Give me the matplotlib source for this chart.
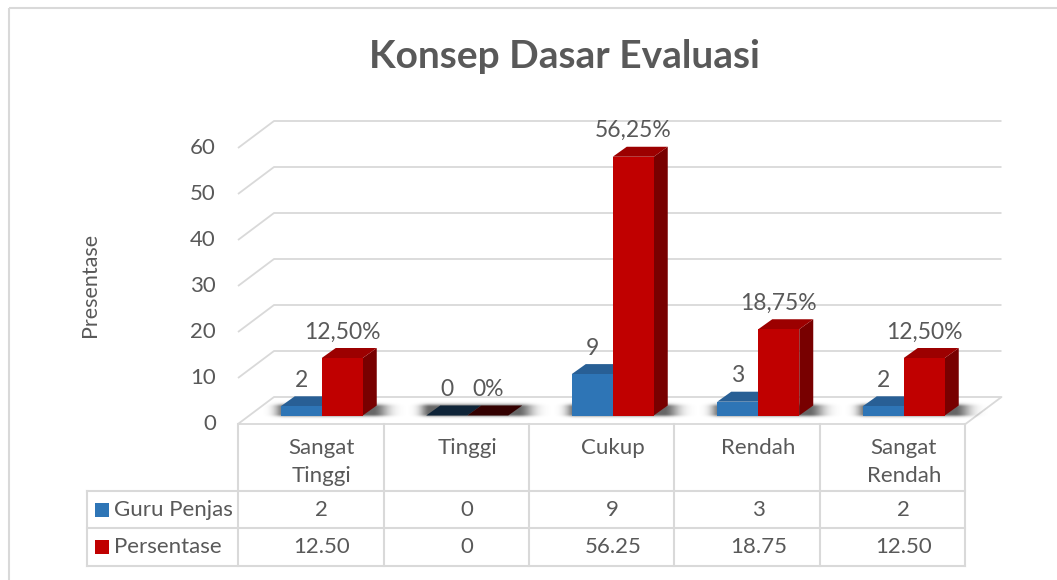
import numpy as np
import matplotlib
matplotlib.use("Agg")
import matplotlib.pyplot as plt
from matplotlib.patches import Polygon, Rectangle
from matplotlib.transforms import blended_transform_factory

# ---------------- data ----------------
categories = [["Sangat", "Tinggi"], ["Tinggi"], ["Cukup"], ["Rendah"], ["Sangat", "Rendah"]]
series_names = ["Guru Penjas", "Persentase"]
guru_penjas = [2, 0, 9, 3, 2]
persentase = [12.50, 0, 56.25, 18.75, 12.50]
yticks = [0, 10, 20, 30, 40, 50, 60]
title = "Konsep Dasar Evaluasi"
ylabel = "Presentase"

# ---------------- style ----------------
FONT = ["Lato", "DejaVu Sans"]
plt.rcParams['font.family'] = FONT
TXT = "#595959"
GRID = "#d9d9d9"
BLUE, BLUE_TOP, BLUE_SIDE, BLUE_ZERO = "#2e75b6", "#285f95", "#1f4e79", "#0f2438"
RED, RED_TOP, RED_SIDE, RED_ZERO = "#c00000", "#9c0000", "#780000", "#330000"
FS = 16

W, H = 1057, 580
fig = plt.figure(figsize=(W / 100, H / 100), dpi=100)

# overlay in pixel coordinates (title, table, frame)
ov = fig.add_axes([0, 0, 1, 1])
ov.set_xlim(0, W)
ov.set_ylim(H, 0)
ov.axis('off')

# main axes: category x, value y (bar front plane)
xl, xr = 249, 976.5
yb, yt = 415.5, 139.5
ax = fig.add_axes([xl / W, 1 - yb / H, (xr - xl) / W, (yb - yt) / H])
ax.set_xlim(-0.5, 4.5)
ax.set_ylim(0, 60)
ax.axis('off')
sx = (xr - xl) / 5.0
sy = (yb - yt) / 60.0


def px(dx, dy):
    return dx / sx, dy / sy


fox, foy = px(-11, -8.5)   # floor front offset
box, boy = px(25, 18.5)    # floor back offset
ddx, ddy = px(14, 10)      # bar depth

# chart frame
ov.add_patch(Rectangle((9, 8), 1060, 600, fill=False, ec=GRID, lw=1.5))

# gridlines and floor
for v in yticks:
    xs = [-0.5 + fox, -0.5 + box, 4.5 + box]
    ys = [v + foy, v + boy, v + boy]
    if v == 0:
        xs += [4.5 + fox, -0.5 + fox]
        ys += [v + foy, v + foy]
    ax.plot(xs, ys, color=GRID, lw=1.3, clip_on=False, zorder=1,
            solid_capstyle='butt')
    ax.annotate(str(v), (-0.5 + fox, v + foy), xytext=(-22, 0),
                textcoords='offset pixels', ha='right', va='center',
                fontsize=FS, color=TXT, annotation_clip=False)

w = 41 / sx

# soft shadows on the floor
for i in range(len(guru_penjas)):
    left_px, right_px = -30, 82 + 14 + 45
    bot_px, top_px = -8, 18
    nx, ny = 300, 80
    u = np.linspace(left_px, right_px, nx)
    t = np.linspace(bot_px, top_px, ny)
    fx = np.where(u < 4, np.exp(-((u - 4) / 10.0) ** 2),
                  np.where(u > 92, np.exp(-((u - 92) / 15.0) ** 2), 1.0))
    fy = np.where(t < 1, np.exp(-((t - 1) / 2.5) ** 2),
                  np.where(t > 8, np.exp(-((t - 8) / 3.0) ** 2), 1.0))
    a = 0.6 * np.outer(fy, fx)
    img = np.zeros((ny, nx, 4))
    img[..., 3] = a
    x0 = i - w
    ax.imshow(img, extent=[x0 + left_px / sx, x0 + right_px / sx,
                           bot_px / sy, top_px / sy],
              origin='lower', aspect='auto', interpolation='bilinear',
              zorder=2, clip_on=False)


def draw_bar(x0, v, front, top, side, zero):
    ax.add_patch(Polygon([(x0 + w, 0), (x0 + w + ddx, ddy), (x0 + w + ddx, v + ddy), (x0 + w, v)],
                         closed=True, fc=side, ec='none', zorder=3, clip_on=False))
    ax.add_patch(Polygon([(x0, v), (x0 + w, v), (x0 + w + ddx, v + ddy), (x0 + ddx, v + ddy)],
                         closed=True, fc=(zero if v == 0 else top), ec='none', zorder=3, clip_on=False))
    if v > 0:
        ax.bar(x0 + w / 2, v, width=w, color=front, zorder=3, clip_on=False)


for i, (g, p) in enumerate(zip(guru_penjas, persentase)):
    draw_bar(i - w, g, BLUE, BLUE_TOP, BLUE_SIDE, BLUE_ZERO)
    draw_bar(i, p, RED, RED_TOP, RED_SIDE, RED_ZERO)
    ax.annotate(str(g), (i - w / 2, g), xytext=(0, 26), textcoords='offset pixels',
                ha='center', va='center', fontsize=FS + 0.5, color=TXT, annotation_clip=False)
    plabel = "0%" if p == 0 else f"{p:.2f}".replace('.', ',') + "%"
    ax.annotate(plabel, (i + w / 2, p), xytext=(0, 26), textcoords='offset pixels',
                ha='center', va='center', fontsize=FS + 0.5, color=TXT, annotation_clip=False)

# title & y label
ov.text(564, 68, title, ha='center', va='baseline', fontsize=28,
        fontweight='bold', color=TXT)
ov.text(90, 285, ylabel, rotation=90, ha='center', va='center',
        fontsize=15.5, color=TXT)

# data table
fig.canvas.draw()
bt = blended_transform_factory(ax.transData, ov.transData)
col_x = [k - 0.5 + fox for k in range(6)]
right_px = ax.transData.transform((col_x[-1], 0))[0]
top_y, r1, r2, r3 = 424, 491, 528, 566
for cx in col_x:
    ov.plot([cx, cx], [top_y, r3], color=GRID, lw=1.5, transform=bt, clip_on=False)
for yy in (r1, r2, r3):
    ov.plot([87, right_px], [yy, yy], color=GRID, lw=1.5, clip_on=False)
ov.plot([87, 87], [r1, r3], color=GRID, lw=1.5)

for i, cat in enumerate(categories):
    for j, line in enumerate(cat):
        ov.text(i, 448 + 28 * j, line, ha='center', va='center', fontsize=FS,
                color=TXT, transform=bt)
    ov.text(i, (r1 + r2) / 2, str(guru_penjas[i]), ha='center', va='center',
            fontsize=FS, color=TXT, transform=bt)
    pv = persentase[i]
    ov.text(i, (r2 + r3) / 2, "0" if pv == 0 else f"{pv:.2f}", ha='center',
            va='center', fontsize=FS, color=TXT, transform=bt)

for name, col, yy in zip(series_names, (BLUE, RED), ((r1 + r2) / 2, (r2 + r3) / 2)):
    ov.add_patch(Rectangle((95, yy - 7), 14, 14, fc=col, ec='none'))
    ov.text(114, yy, name, ha='left', va='center', fontsize=FS, color=TXT)

fig.savefig("out.png", dpi=100)
